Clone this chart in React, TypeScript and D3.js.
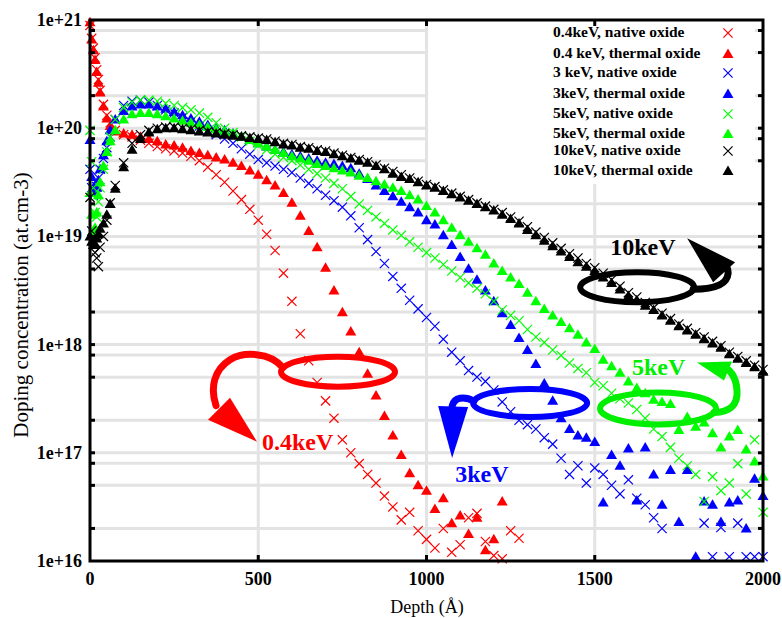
import React from 'react';
import * as d3 from 'd3';

// depth grid (Angstrom): dense near the surface, then every 25 A
const depth = [0, 5, 10, 15, 20, 25, 30, 40, 50, 60, 75, 100, ...d3.range(125, 2001, 25)];

// log10 of doping concentration (at.cm-3); null = no point
const red04Native = [
  20.95, 20.83, 20.74, 20.65, 20.54, 20.45, 20.35, 20.22, 20.12, 20.05, 19.98, 19.94,
  19.92, 19.89, 19.86, 19.83, 19.81, 19.79, 19.77, 19.74,
  19.70, 19.64, 19.57, 19.50, 19.42, 19.34, 19.25, 19.15,
  19.02, 18.87, 18.66, 18.40, 18.10, 17.85, 17.65, 17.48,
  17.32, 17.12, 17.00, 16.90, 16.80, 16.72, 16.60, 16.50,
  16.38, 16.45, 16.28, 16.20, 16.12, 16.30, 16.08, 16.15,
  16.40, 16.44, 16.18, 16.05, 16.02, 16.28, 16.21, null,
];
const red04Thermal = [
  20.98, 20.82, 20.72, 20.63, 20.52, 20.42, 20.33, 20.20, 20.09, 20.02, 19.97, 19.95,
  19.94, 19.92, 19.90, 19.88, 19.85, 19.84, 19.82, 19.79,
  19.77, 19.75, 19.73, 19.71, 19.68, 19.65, 19.61, 19.57,
  19.52, 19.47, 19.40, 19.31, 19.19, 19.05, 18.90, 18.71,
  18.50, 18.30, 18.12, 17.93, 17.73, 17.53, 17.34, 17.16,
  16.98, 16.81, 16.70, 16.65, 16.48, 16.58, 16.35, 16.42,
  16.25, 16.40, 16.10, 16.20, 16.55, null, null, null,
];
const blue3Native = [
  19.62, 19.45, 19.38, 19.40, 19.46, 19.54, 19.62, 19.72, 19.82, 19.92, 20.08, 20.21,
  20.25, 20.26, 20.24, 20.21, 20.17, 20.14, 20.10, 20.06,
  20.02, 19.98, 19.94, 19.90, 19.86, 19.81, 19.76, 19.71,
  19.68, 19.65, 19.62, 19.59, 19.54, 19.49, 19.44, 19.38,
  19.33, 19.27, 19.19, 19.08, 18.97, 18.86, 18.75, 18.63,
  18.52, 18.41, 18.33, 18.25, 18.17, 18.05, 17.93, 17.85,
  17.76, 17.70, 17.66, 17.58, 17.47, 17.38, 17.30, 17.26,
  17.22, 17.14, 17.08, 16.95, 16.80, 16.88, 16.72, 16.86,
  16.80, 16.70, 16.62, 16.75, 16.58, 16.52, 16.40, 16.30,
  null, null, null, null, 16.35, 16.04, 16.31, 16.04,
  16.35, 16.04, 16.04, 16.04,
];
const blue3Thermal = [
  19.89, 19.55, 19.45, 19.40, 19.45, 19.52, 19.62, 19.75, 19.88, 19.98, 20.08, 20.16,
  20.20, 20.22, 20.22, 20.20, 20.18, 20.15, 20.12, 20.09,
  20.06, 20.03, 20.00, 19.98, 19.95, 19.92, 19.89, 19.86,
  19.83, 19.80, 19.78, 19.76, 19.74, 19.72, 19.70, 19.68,
  19.67, 19.65, 19.63, 19.58, 19.53, 19.47, 19.42, 19.37,
  19.32, 19.27, 19.22, 19.15, 19.11, 19.01, 18.92, 18.81,
  18.70, 18.60, 18.50, 18.40, 18.29, 18.18, 18.06, 17.95,
  17.82, 17.64, 17.48, 17.32, 17.22, 17.16, 17.14, 17.10,
  16.54, 16.98, 16.88, 17.04, 16.56, 17.05, 16.80, 16.52,
  16.84, 16.36, 16.84, 16.04, 16.55, 16.52, 16.36, 16.54,
  16.56, 16.30, 16.76, 16.60,
];
const green5Native = [
  19.98, 19.69, 19.45, 19.22, 19.18, 19.32, 19.45, 19.62, 19.78, 19.92, 20.08, 20.19,
  20.24, 20.26, 20.26, 20.25, 20.23, 20.21, 20.19, 20.17,
  20.14, 20.10, 20.05, 20.00, 19.96, 19.92, 19.88, 19.84,
  19.80, 19.76, 19.73, 19.70, 19.66, 19.62, 19.58, 19.54,
  19.49, 19.44, 19.37, 19.30, 19.24, 19.18, 19.12, 19.06,
  19.01, 18.95, 18.90, 18.85, 18.80, 18.74, 18.68, 18.62,
  18.57, 18.52, 18.47, 18.40, 18.32, 18.27, 18.22, 18.14,
  18.07, 18.02, 17.95, 17.90, 17.83, 17.78, 17.74, 17.65,
  17.62, 17.55, 17.50, 17.46, 17.40, 17.32, 17.22, 17.15,
  17.05, 16.95, 16.88, 16.80, 16.55, 16.78, 16.65, 16.72,
  16.90, 16.62, 17.12, 16.45,
];
const green5Thermal = [
  19.40, 19.20, 19.05, 19.08, 19.22, 19.38, 19.50, 19.65, 19.78, 19.88, 19.98, 20.08,
  20.13, 20.14, 20.14, 20.13, 20.11, 20.09, 20.07, 20.05,
  20.03, 20.01, 19.99, 19.97, 19.95, 19.92, 19.89, 19.86,
  19.83, 19.80, 19.77, 19.74, 19.72, 19.70, 19.67, 19.65,
  19.63, 19.61, 19.59, 19.56, 19.54, 19.51, 19.48, 19.45,
  19.42, 19.38, 19.34, 19.28, 19.22, 19.15, 19.08, 19.01,
  18.95, 18.89, 18.83, 18.75, 18.68, 18.62, 18.56, 18.48,
  18.40, 18.33, 18.27, 18.21, 18.15, 18.09, 18.02, 17.96,
  17.86, 17.80, 17.74, 17.66, 17.60, 17.55, 17.49, 17.47,
  17.45, 17.21, 17.33, 17.24, 17.28, 17.18, 17.05, 17.15,
  17.21, 17.03, 16.92, 16.78,
];
const black10Native = [
  19.36, 19.05, 18.95, 18.85, 18.80, 18.72, 18.90, 19.00, 19.15, 19.31, 19.47, 19.68,
  19.86, 19.94, 19.98, 20.00, 20.01, 20.01, 20.00, 19.99,
  19.98, 19.97, 19.96, 19.95, 19.94, 19.93, 19.92, 19.91,
  19.90, 19.88, 19.86, 19.85, 19.83, 19.82, 19.80, 19.79,
  19.77, 19.75, 19.73, 19.71, 19.69, 19.66, 19.63, 19.60,
  19.57, 19.54, 19.51, 19.48, 19.46, 19.43, 19.40, 19.37,
  19.34, 19.31, 19.28, 19.25, 19.22, 19.18, 19.14, 19.09,
  19.04, 18.99, 18.94, 18.89, 18.84, 18.80, 18.75, 18.71,
  18.66, 18.60, 18.54, 18.48, 18.44, 18.39, 18.34, 18.29,
  18.24, 18.19, 18.15, 18.11, 18.07, 18.03, 17.99, 17.93,
  17.89, 17.85, 17.81, 17.77,
];
const black10Thermal = [
  19.00, 18.95, 18.92, 18.93, 18.98, 19.02, 19.07, 19.12, 19.20, 19.30, 19.44, 19.64,
  19.80, 19.90, 19.96, 19.99, 20.00, 20.00, 19.99, 19.98,
  19.97, 19.96, 19.95, 19.94, 19.93, 19.92, 19.91, 19.90,
  19.89, 19.87, 19.85, 19.84, 19.82, 19.81, 19.79, 19.78,
  19.76, 19.74, 19.72, 19.70, 19.68, 19.65, 19.62, 19.58,
  19.55, 19.53, 19.50, 19.47, 19.45, 19.42, 19.39, 19.36,
  19.33, 19.30, 19.27, 19.24, 19.20, 19.16, 19.12, 19.06,
  19.01, 18.96, 18.91, 18.86, 18.81, 18.76, 18.72, 18.68,
  18.62, 18.57, 18.51, 18.45, 18.41, 18.36, 18.32, 18.27,
  18.22, 18.17, 18.13, 18.09, 18.05, 18.01, 17.97, 17.91,
  17.87, 17.83, 17.79, 17.75,
];

const seriesLabels = [
  '0.4keV, native oxide', '0.4 keV, thermal oxide',
  '3 keV, native oxide', '3keV, thermal oxide',
  '5keV, native oxide', '5keV, thermal oxide',
  '10keV, native oxide', '10keV, thermal oxide',
];
const seriesValues = [
  red04Native, red04Thermal, blue3Native, blue3Thermal,
  green5Native, green5Thermal, black10Native, black10Thermal,
];
const seriesColors = ['#ff0000', '#ff0000', '#0000ff', '#0000ff', '#00ff00', '#00ff00', '#000000', '#000000'];
const seriesShapes = ['x', 'tri', 'x', 'tri', 'x', 'tri', 'x', 'tri'];

const xTicks = [0, 500, 1000, 1500, 2000];
const yTicks = [1e16, 1e17, 1e18, 1e19, 1e20, 1e21];
const yTickLabels = ['1e+16', '1e+17', '1e+18', '1e+19', '1e+20', '1e+21'];
const gridMantissas = [1, 2, 5, 8];

// energy call-outs: ellipse centre in data units (depth, log10 conc)
const calloutText = ['0.4keV', '3keV', '5keV', '10keV'];
const calloutCentre = [[737, 17.75], [1308, 17.46], [1688, 17.41], [1626, 18.53]];
const calloutColors = ['#ff0000', '#0000ff', '#00ee00', '#000000'];

const W = 782;
const H = 618;
const left = 90, right = 763, top = 20, bottom = 561;
const font = '"Liberation Serif", "Times New Roman", serif';

function Marker({ shape, x, y, color }: { shape: string; x: number; y: number; color: string }) {
  if (shape === 'tri') {
    return <path d={`M${x},${y - 5.5}L${x + 5.5},${y + 4}L${x - 5.5},${y + 4}Z`} fill={color} />;
  }
  const s = 4.6;
  return (
    <path
      d={`M${x - s},${y - s}L${x + s},${y + s}M${x - s},${y + s}L${x + s},${y - s}`}
      stroke={color}
      strokeWidth={1.2}
      fill="none"
    />
  );
}

export default function App() {
  const x = d3.scaleLinear().domain([0, 2000]).range([left, right]);
  const y = d3.scaleLog().domain([1e16, 1e21]).range([bottom, top]);

  const gridY: number[] = [];
  d3.range(16, 21).forEach((n) => gridMantissas.forEach((k) => gridY.push(k * Math.pow(10, n))));

  // call-out geometry, relative to each ellipse centre
  const callouts = calloutCentre.map(([d, l]) => [x(d), y(Math.pow(10, l))]);
  const [rc, bc, gc, kc] = callouts;

  const legendY = [32, 53, 72, 93, 113, 133, 150, 170];

  return (
    <svg width={W} height={H} style={{ position: 'absolute', left: 0, top: 0, background: '#fff' }}>
      <rect x={0} y={0} width={W} height={H} fill="#fff" />
      {/* grid */}
      {gridY.filter((v) => v > 1e16).map((v, i) => (
        <line key={'gy' + i} x1={left} x2={right} y1={y(v)} y2={y(v)} stroke="#e3e3e3" strokeWidth={3} />
      ))}
      {xTicks.slice(1, -1).map((t) => (
        <line key={'gx' + t} x1={x(t)} x2={x(t)} y1={top} y2={bottom} stroke="#e3e3e3" strokeWidth={3} />
      ))}
      {/* legend box hides the grid */}
      <rect x={428} y={top + 2} width={327} height={162} fill="#fff" />

      {/* data */}
      {seriesValues.map((vals, si) => (
        <g key={'s' + si}>
          {depth.map((d, i) => {
            const v = vals[i];
            if (v === null || v === undefined) return null;
            return <Marker key={i} shape={seriesShapes[si]} x={x(d)} y={y(Math.pow(10, v))} color={seriesColors[si]} />;
          })}
        </g>
      ))}

      {/* call-outs */}
      <g fill="none" strokeLinecap="round">
        <ellipse cx={rc[0]} cy={rc[1]} rx={57} ry={15} stroke={calloutColors[0]} strokeWidth={6} />
        <path d={`M${rc[0] - 55},${rc[1] - 4} C${rc[0] - 68},${rc[1] - 20} ${rc[0] - 95},${rc[1] - 20} ${rc[0] - 108},${rc[1] - 12} C${rc[0] - 124},${rc[1] - 2} ${rc[0] - 128},${rc[1] + 16} ${rc[0] - 122},${rc[1] + 34}`} stroke={calloutColors[0]} strokeWidth={7} />
        <ellipse cx={bc[0]} cy={bc[1]} rx={57} ry={14} stroke={calloutColors[1]} strokeWidth={6} />
        <path d={`M${bc[0] - 56},${bc[1] - 2} C${bc[0] - 66},${bc[1] - 7} ${bc[0] - 76},${bc[1] - 6} ${bc[0] - 78},${bc[1] + 3}`} stroke={calloutColors[1]} strokeWidth={7} />
        <ellipse cx={gc[0]} cy={gc[1]} rx={58} ry={16} stroke={calloutColors[2]} strokeWidth={6} />
        <path d={`M${gc[0] + 56},${gc[1] + 4} C${gc[0] + 72},${gc[1] + 4} ${gc[0] + 80},${gc[1] - 4} ${gc[0] + 79},${gc[1] - 18} C${gc[0] + 78},${gc[1] - 32} ${gc[0] + 72},${gc[1] - 40} ${gc[0] + 62},${gc[1] - 43}`} stroke={calloutColors[2]} strokeWidth={7} />
        <ellipse cx={kc[0]} cy={kc[1]} rx={57} ry={15} stroke={calloutColors[3]} strokeWidth={6} />
        <path d={`M${kc[0] + 56},${kc[1] + 2} C${kc[0] + 74},${kc[1] + 2} ${kc[0] + 90},${kc[1] - 2} ${kc[0] + 91},${kc[1] - 14} C${kc[0] + 91},${kc[1] - 20} ${kc[0] + 88},${kc[1] - 24} ${kc[0] + 84},${kc[1] - 27}`} stroke={calloutColors[3]} strokeWidth={7} />
      </g>
      <g>
        <path d={`M${rc[0] - 130},${rc[1] + 48} L${rc[0] - 108},${rc[1] + 26} L${rc[0] - 81},${rc[1] + 70} Z`} fill={calloutColors[0]} />
        <path d={`M${bc[0] - 92},${bc[1] + 3} L${bc[0] - 62},${bc[1] + 4} L${bc[0] - 78},${bc[1] + 55} Z`} fill={calloutColors[1]} />
        <path d={`M${gc[0] + 39},${gc[1] - 46} L${gc[0] + 74},${gc[1] - 47} L${gc[0] + 66},${gc[1] - 28} Z`} fill={calloutColors[2]} />
        <path d={`M${kc[0] + 50},${kc[1] - 49} L${kc[0] + 98},${kc[1] - 25} L${kc[0] + 76},${kc[1] - 5} Z`} fill={calloutColors[3]} />
      </g>
      <g fontFamily={font} fontWeight="bold" fontSize={24}>
        <text x={rc[0] - 76} y={rc[1] + 78} fill={calloutColors[0]}>{calloutText[0]}</text>
        <text x={bc[0] - 75} y={bc[1] + 79} fill={calloutColors[1]}>{calloutText[1]}</text>
        <text x={gc[0] - 26} y={gc[1] - 33} fill={calloutColors[2]}>{calloutText[2]}</text>
        <text x={kc[0] - 27} y={kc[1] - 32} fill={calloutColors[3]}>{calloutText[3]}</text>
      </g>

      {/* frame + ticks */}
      <rect x={left} y={top} width={right - left} height={bottom - top} fill="none" stroke="#000" strokeWidth={3} />
      {gridY.filter((v) => v > 1e16).map((v, i) => (
        <g key={'ty' + i}>
          <line x1={left} x2={left + 5} y1={y(v)} y2={y(v)} stroke="#000" strokeWidth={3} />
          <line x1={right - 5} x2={right} y1={y(v)} y2={y(v)} stroke="#000" strokeWidth={3} />
        </g>
      ))}
      {xTicks.slice(1, -1).map((t) => (
        <g key={'tx' + t}>
          <line x1={x(t)} x2={x(t)} y1={top} y2={top + 6} stroke="#000" strokeWidth={3} />
          <line x1={x(t)} x2={x(t)} y1={bottom - 6} y2={bottom} stroke="#000" strokeWidth={3} />
        </g>
      ))}

      {/* tick labels */}
      <g fontFamily={font} fontWeight="bold" fontSize={18} fill="#000">
        {yTicks.map((t, i) => (
          <text key={'yl' + i} x={82} y={y(t) + 6} textAnchor="end">{yTickLabels[i]}</text>
        ))}
        {xTicks.map((t) => (
          <text key={'xl' + t} x={x(t)} y={585} textAnchor="middle">{t}</text>
        ))}
      </g>
      <text x={427} y={613} textAnchor="middle" fontFamily={font} fontSize={18}>Depth (Å)</text>
      <text transform="translate(28,305) rotate(-90)" textAnchor="middle" fontFamily={font} fontSize={21}>
        Doping concentration (at.cm-3)
      </text>

      {/* legend */}
      <g fontFamily={font} fontWeight="bold" fontSize={15.5}>
        {seriesLabels.map((lab, i) => (
          <g key={'lg' + i}>
            <text x={553} y={legendY[i] + 5}>{lab}</text>
            <Marker shape={seriesShapes[i]} x={728} y={legendY[i] + 1} color={seriesColors[i]} />
          </g>
        ))}
      </g>
    </svg>
  );
}
